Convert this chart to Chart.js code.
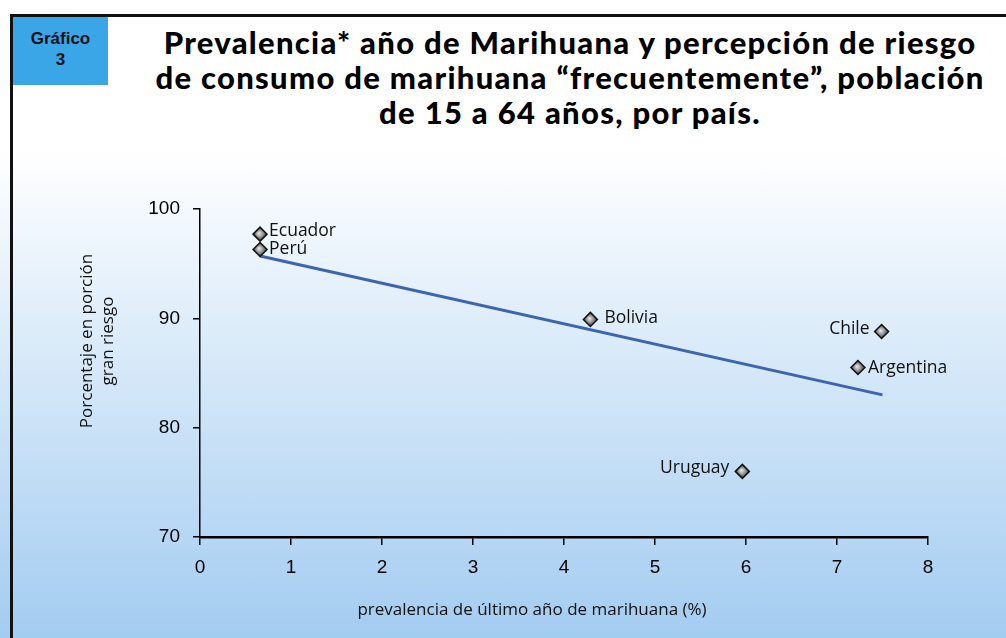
<!DOCTYPE html>
<html>
<head>
<meta charset="utf-8">
<script src="https://cdn.jsdelivr.net/npm/chart.js@4.4.1/dist/chart.umd.min.js"></script>
<style>
html, body { margin: 0; padding: 0; }
body {
    width: 1006px; height: 638px; overflow: hidden; position: relative;
    background: linear-gradient(to bottom, #ffffff 0px, #ffffff 150px, #a3ccf1 638px);
}
#frame {
    position: absolute; left: 10px; top: 14px; width: 1000px; height: 630px;
    border-left: 3px solid #111; border-top: 3px solid #111;
}
#tag {
    position: absolute; left: 13px; top: 17px; width: 95px; height: 68px;
    box-sizing: border-box; padding-top: 11px;
    background: #3aa6e8; color: #111; text-align: center;
    font: bold 17px "Liberation Sans", Arial, sans-serif; line-height: 21px;
}
#title {
    position: absolute; left: 120px; width: 900px; top: 25px;
    text-align: center; white-space: nowrap; color: #000;
    font: 900 31px Lato, sans-serif; line-height: 35px; letter-spacing: 1.3px;
}
canvas { position: absolute; left: 0; top: 0; }
</style>
</head>
<body>
<div id="frame"></div>
<div id="tag">Gráfico<br>3</div>
<div id="title">Prevalencia* año de Marihuana y percepción de riesgo<br>de consumo de marihuana “frecuentemente”, población<br>de 15 a 64 años, por país.</div>
<canvas id="chart" width="1006" height="638"></canvas>
<script>
const countries = ['Ecuador', 'Perú', 'Bolivia', 'Chile', 'Argentina', 'Uruguay'];
const prevalence = [0.66, 0.66, 4.29, 7.49, 7.23, 5.96];
const riskPct = [97.7, 96.3, 89.9, 88.8, 85.5, 76.0];
const trendX = [0.66, 7.5];
const trendY = [95.7, 83.0];
const xTicks = [0, 1, 2, 3, 4, 5, 6, 7, 8];
const yTicks = [70, 80, 90, 100];
const xTitle = 'prevalencia de último año de marihuana (%)';
const yTitle = ['Porcentaje en porción', 'gran riesgo'];

// diamond fill: light centre, dark edge
function markerFill(c) {
    const chart = c.chart;
    if (!chart.scales.x || !c.parsed) return '#999';
    const x = chart.scales.x.getPixelForValue(c.parsed.x);
    const y = chart.scales.y.getPixelForValue(c.parsed.y);
    if (!isFinite(x) || !isFinite(y)) return '#999';
    const g = chart.ctx.createRadialGradient(x - 1, y - 1, 0, x, y, 7);
    g.addColorStop(0, '#eeeeee');
    g.addColorStop(0.5, '#959595');
    g.addColorStop(1, '#383838');
    return g;
}

const pointLabels = {
    id: 'pointLabels',
    afterDatasetsDraw(chart, args, opts) {
        const ctx = chart.ctx;
        const meta = chart.getDatasetMeta(0);
        ctx.save();
        ctx.font = '17.5px "Open Sans"';
        ctx.fillStyle = '#111';
        ctx.textBaseline = 'middle';
        meta.data.forEach((pt, i) => {
            const o = opts.place[i];
            ctx.textAlign = o.dx < 0 ? 'right' : 'left';
            ctx.fillText(countries[i], pt.x + o.dx, pt.y + o.dy);
        });
        ctx.restore();
    }
};

const axisTitles = {
    id: 'axisTitles',
    afterDraw(chart) {
        const ctx = chart.ctx;
        const a = chart.chartArea;
        ctx.save();
        ctx.fillStyle = '#111';
        ctx.font = '17px "Open Sans"';
        ctx.textAlign = 'center';
        ctx.textBaseline = 'middle';
        ctx.fillText(xTitle, (a.left + a.right) / 2 - 32, a.bottom + 73);
        ctx.translate(87, (a.top + a.bottom) / 2 - 32);
        ctx.rotate(-Math.PI / 2);
        yTitle.forEach((t, i) => ctx.fillText(t, 0, i * 21));
        ctx.restore();
    }
};

new Chart(document.getElementById('chart'), {
    type: 'scatter',
    data: {
        datasets: [{
            label: 'Países',
            data: countries.map((c, i) => ({ x: prevalence[i], y: riskPct[i] })),
            pointStyle: 'rectRot',
            pointRadius: 7,
            pointBackgroundColor: markerFill,
            pointBorderColor: '#111',
            pointBorderWidth: 1.5,
            order: 1
        }, {
            type: 'line',
            label: 'Tendencia',
            data: trendX.map((x, i) => ({ x: x, y: trendY[i] })),
            borderColor: '#3b64b1',
            borderWidth: 3,
            pointRadius: 0,
            fill: false,
            order: 2
        }]
    },
    options: {
        responsive: false,
        animation: false,
        layout: { padding: { top: 209, right: 78, bottom: 0, left: 0 } },
        plugins: {
            legend: { display: false },
            tooltip: { enabled: false },
            pointLabels: {
                place: [
                    { dx: 9, dy: -3 },
                    { dx: 9, dy: 0 },
                    { dx: 14, dy: -1 },
                    { dx: -12, dy: -2 },
                    { dx: 10, dy: 0 },
                    { dx: -13, dy: -3 }
                ]
            }
        },
        scales: {
            x: {
                min: 0, max: 8,
                afterFit: s => { s.height = 101; },
                afterBuildTicks: s => { s.ticks = xTicks.map(v => ({ value: v })); },
                ticks: { color: '#000', font: { family: 'Liberation Sans', size: 19 }, padding: 11 },
                grid: { drawOnChartArea: false, color: '#000', lineWidth: 1.5, tickLength: 8 },
                border: { color: '#000', width: 2.5 }
            },
            y: {
                min: 70, max: 100,
                afterFit: s => { s.width = 200; },
                afterBuildTicks: s => { s.ticks = yTicks.map(v => ({ value: v })); },
                ticks: { color: '#000', font: { family: 'Liberation Sans', size: 19 }, padding: 13 },
                grid: { drawOnChartArea: false, color: '#000', lineWidth: 1.5, tickLength: 7 },
                border: { color: '#000', width: 1.5 }
            }
        }
    },
    plugins: [pointLabels, axisTitles]
});
</script>
</body>
</html>
